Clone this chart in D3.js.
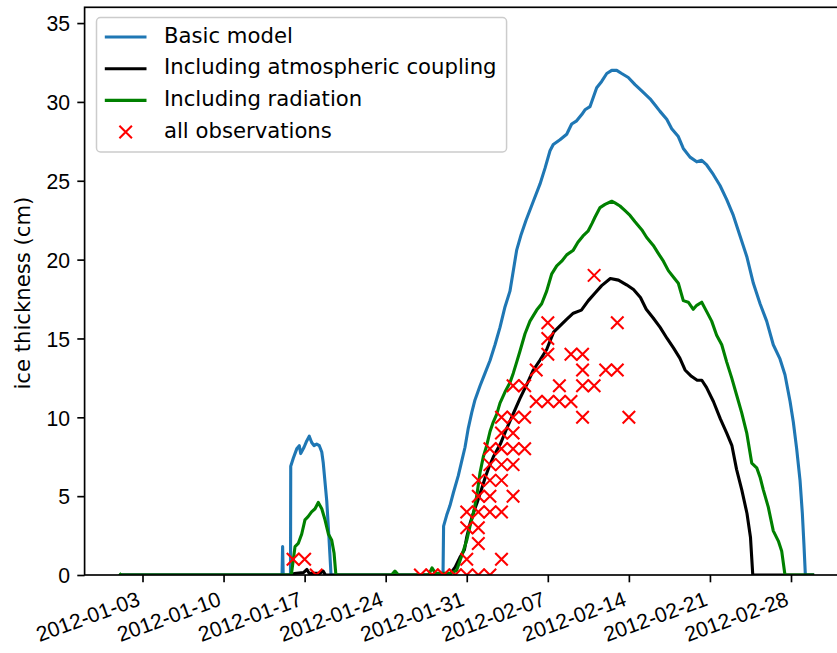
<!DOCTYPE html>
<html>
<head>
<meta charset="utf-8">
<script src="https://cdn.jsdelivr.net/npm/d3@7/dist/d3.min.js"></script>
<style>
  html, body { margin: 0; padding: 0; background: #fff; }
  svg { display: block; font-family: "DejaVu Sans", sans-serif; }
</style>
</head>
<body>
<svg id="chart" width="837" height="653"></svg>
<script>
// Ice thickness (cm) over winter 2012; times are days since 2012-01-01 00:00 UTC.
const basicModel = [
  [0,0],[14.05,0],[14.1,1.8],[14.15,0],[14.78,0],[14.8,6.9],[15.02,7.4],[15.32,8.0],[15.54,8.2],
  [15.66,7.7],[15.95,8.1],[16.18,8.5],[16.4,8.8],[16.61,8.4],[16.81,8.2],[17.04,8.3],[17.27,8.2],
  [17.48,7.8],[17.61,7.1],[17.91,4.7],[18.1,2.4],[18.28,0],[27.95,0],[28.0,3.1],[28.27,3.8],
  [28.55,4.4],[28.84,5.2],[29.27,6.3],[29.56,7.2],[29.85,8.1],[30.13,9.3],[30.43,10.3],[30.71,11.1],
  [31.15,12.0],[31.58,12.8],[32.01,13.6],[32.44,14.6],[32.87,15.7],[33.3,17.0],[33.73,18.0],
  [34.02,19.3],[34.31,20.6],[34.7,21.6],[35.12,22.5],[35.75,23.7],[36.33,24.8],[36.76,25.8],
  [37.19,26.9],[37.47,27.3],[38.05,27.6],[38.63,27.95],[39.06,28.6],[39.49,28.8],[39.93,29.2],
  [40.21,29.5],[40.64,29.7],[40.93,30.3],[41.22,30.9],[41.65,31.3],[42.09,31.8],[42.52,32.0],
  [42.95,32.0],[43.38,31.8],[43.95,31.55],[44.53,31.1],[45.11,30.7],[45.83,30.2],[46.26,29.8],
  [46.69,29.4],[47.27,28.9],[47.7,28.3],[48.27,27.8],[48.7,27.05],[49.28,26.5],[49.86,26.2],
  [50.29,26.3],[50.72,26.0],[51.29,25.4],[51.87,24.7],[52.45,23.8],[53.02,22.8],[53.6,21.5],
  [54.18,20.2],[54.75,18.5],[55.33,17.2],[55.9,16.1],[56.47,14.6],[57.05,13.7],[57.48,12.7],
  [57.92,11.0],[58.2,9.7],[58.49,8.0],[58.78,6.0],[58.98,3.9],[59.12,1.9],[59.24,0],[60,0]
];

const atmosphericCoupling = [
  [0,0],[15.0,0],[15.1,0.1],[15.9,0.15],[16.2,0.35],[16.4,0.1],[17.3,0.1],[17.6,0.25],[17.8,0],
  [28.5,0],[29.0,0.5],[29.4,1.1],[29.8,1.6],[30.0,2.4],[30.3,3.3],[30.6,4.0],[30.9,4.6],[31.3,5.5],
  [31.6,6.2],[31.9,6.8],[32.3,7.5],[32.9,8.3],[33.4,9.2],[34.0,10.2],[34.6,11.2],[35.2,12.1],
  [35.75,13.0],[36.3,13.6],[36.9,14.3],[37.5,15.4],[38.05,15.8],[38.6,16.2],[39.2,16.6],[39.9,16.8],
  [40.5,17.4],[41.1,17.9],[41.65,18.35],[42.4,18.8],[43.1,18.7],[43.8,18.4],[44.4,18.1],[45.0,17.6],
  [45.5,16.85],[46.1,16.3],[46.7,15.7],[47.3,15.0],[47.85,14.4],[48.4,13.75],[48.85,13.0],
  [49.4,12.6],[49.9,12.35],[50.3,12.35],[50.7,11.9],[51.3,11.0],[51.9,9.9],[52.45,9.0],[52.9,8.2],
  [53.3,6.7],[53.75,5.4],[54.2,3.9],[54.5,2.4],[54.7,0],[60,0]
];

const radiation = [
  [0,0.1],[0.15,0],[14.85,0],[15.17,1.8],[15.45,2.0],[15.75,2.6],[16.03,3.5],[16.3,3.7],[16.6,4.0],
  [16.9,4.2],[17.18,4.6],[17.48,4.2],[17.76,3.5],[18.05,2.6],[18.34,2.2],[18.54,1.4],[18.7,0],
  [23.5,0],[23.8,0.25],[24.1,0],[26.7,0],[27.0,0.45],[27.3,0.1],[28.6,0.1],[29.13,0.3],[29.56,1.2],
  [30.0,2.2],[30.28,3.1],[30.57,3.9],[30.86,5.0],[31.15,6.5],[31.43,7.5],[31.72,8.2],[32.01,9.1],
  [32.29,9.7],[32.59,10.2],[32.87,10.9],[33.3,11.6],[33.73,12.2],[34.02,12.8],[34.31,13.5],
  [34.6,14.2],[35.03,15.3],[35.46,16.1],[36.04,16.8],[36.47,17.2],[36.9,18.0],[37.34,19.1],
  [37.77,19.6],[38.2,19.9],[38.63,20.3],[39.2,20.6],[39.6,21.1],[40.04,21.5],[40.47,21.8],
  [40.82,22.3],[41.08,22.7],[41.51,23.3],[41.94,23.5],[42.52,23.7],[42.8,23.6],[43.23,23.4],
  [43.67,23.1],[44.1,22.8],[44.53,22.4],[45.11,21.9],[45.54,21.4],[46.11,20.9],[46.54,20.4],
  [46.98,19.9],[47.41,19.3],[47.84,18.9],[48.27,18.5],[48.7,17.4],[49.13,17.3],[49.56,16.85],
  [49.86,17.1],[50.29,17.3],[50.72,16.7],[51.15,16.1],[51.58,15.2],[52.02,14.6],[52.45,13.5],
  [52.88,12.5],[53.31,11.4],[53.74,10.3],[54.18,9.0],[54.61,7.1],[55.04,6.8],[55.33,6.2],
  [55.61,5.4],[56.04,4.3],[56.47,2.8],[56.91,2.15],[57.2,1.5],[57.48,0],[60,0]
];

// Field observations: [day, thickness cm]
const observations = [
  [15,1],[16,1],[17,0],
  [26,0],[27,0],[28,0],[29,0],[30,0],[31,0],[32,0],
  [30,1],[30,3],[30,4],
  [31,2],[31,3],[31,4],[31,5],[31,6],
  [32,4],[32,5],[32,6],[32,7],[32,8],
  [33,1],[33,4],[33,6],[33,7],[33,8],[33,9],[33,10],
  [34,5],[34,7],[34,8],[34,9],[34,10],[34,12],
  [35,8],[35,10],[35,12],
  [36,11],[36,13],
  [37,11],[37,14],[37,15],[37,16],
  [38,11],[38,12],
  [39,11],[39,14],
  [40,10],[40,12],[40,13],[40,14],
  [41,12],[41,19],
  [42,13],
  [43,13],[43,16],
  [44,10]
];

const xTickLabels = ["2012-01-03","2012-01-10","2012-01-17","2012-01-24","2012-01-31",
                     "2012-02-07","2012-02-14","2012-02-21","2012-02-28"];
const yTickValues = [0,5,10,15,20,25,30,35];

const seriesNames = ["Basic model","Including atmospheric coupling","Including radiation","all observations"];
const seriesColors = ["#1f77b4","#000000","#008000","#ff0000"];

// ---- drawing ----
const FS = 21.2;
const LW = 3.1;
const origin = Date.UTC(2012,0,1);
const toDate = d => new Date(origin + d * 864e5);

const plotL = 84.6, plotR = 848.9, plotT = 7.3, plotB = 575;
const svg = d3.select("#chart");

const x = d3.scaleUtc()
  .domain([new Date(Date.UTC(2011,11,29)), new Date(Date.UTC(2012,2,4))])
  .range([plotL, plotR]);
const y = d3.scaleLinear().domain([0, 36]).range([plotB, plotT]);

svg.append("defs").append("clipPath").attr("id","plotclip")
  .append("rect").attr("x", plotL).attr("y", plotT)
  .attr("width", plotR - plotL).attr("height", plotB - plotT);

const plot = svg.append("g").attr("clip-path","url(#plotclip)");

const line = d3.line().x(d => x(toDate(d[0]))).y(d => y(d[1]));
[basicModel, atmosphericCoupling, radiation].forEach((s, i) => {
  plot.append("path").datum(s)
    .attr("d", line)
    .attr("fill","none")
    .attr("stroke", seriesColors[i])
    .attr("stroke-width", LW)
    .attr("stroke-linejoin","round");
});

const H = 6.25;
const xMark = `M${-H},${-H}L${H},${H}M${-H},${H}L${H},${-H}`;
plot.selectAll("path.obs").data(observations).join("path")
  .attr("class","obs")
  .attr("transform", d => `translate(${x(toDate(d[0]))},${y(d[1])})`)
  .attr("d", xMark)
  .attr("fill","none")
  .attr("stroke", seriesColors[3])
  .attr("stroke-width", 2.08);

// axes
const parse = d3.utcParse("%Y-%m-%d");
const xAxis = d3.axisBottom(x)
  .tickValues(xTickLabels.map(parse))
  .tickFormat(d3.utcFormat("%Y-%m-%d"))
  .tickSize(7.3).tickSizeOuter(0);
const gx = svg.append("g").attr("transform",`translate(0,${plotB})`).call(xAxis);
gx.select(".domain").remove();
gx.selectAll(".tick line").attr("stroke","#000").attr("stroke-width",1.67);
gx.selectAll(".tick text")
  .attr("font-size", FS).attr("fill","#000")
  .attr("text-anchor","end")
  .attr("dy", null)
  .attr("y", null)
  .attr("transform", `translate(-1.7,30) rotate(-20)`);

const yAxis = d3.axisLeft(y).tickValues(yTickValues).tickSize(7.3).tickSizeOuter(0).tickPadding(7.3);
const gy = svg.append("g").attr("transform",`translate(${plotL},0)`).call(yAxis);
gy.select(".domain").remove();
gy.selectAll(".tick line").attr("stroke","#000").attr("stroke-width",1.67);
gy.selectAll(".tick text").attr("font-size", FS).attr("fill","#000")
  .attr("dy", null).attr("y", 7.7);

// frame
svg.append("rect").attr("x", plotL).attr("y", plotT)
  .attr("width", plotR - plotL).attr("height", plotB - plotT)
  .attr("fill","none").attr("stroke","#000").attr("stroke-width",1.67);

// y label
svg.append("text")
  .attr("transform", `translate(30,${(plotT + plotB) / 2 + 2}) rotate(-90)`)
  .attr("text-anchor","middle")
  .attr("font-size", FS).attr("fill","#000")
  .text("ice thickness (cm)");

// legend
const lg = svg.append("g");
const lgX = 96.5, lgY = 17.5, rowH = 31.7, row0 = 37;
const hx0 = lgX + 8.3, hx1 = hx0 + 41.7, tx = hx1 + 17.5;
const box = lg.append("rect").attr("x", lgX).attr("y", lgY).attr("rx", 4).attr("ry", 4)
  .attr("fill","#fff").attr("fill-opacity",0.8)
  .attr("stroke","#cccccc").attr("stroke-width",1.5);
let maxW = 0;
seriesNames.forEach((name, i) => {
  const cy = row0 + i * rowH;
  if (i < 3) {
    lg.append("line").attr("x1", hx0).attr("x2", hx1).attr("y1", cy).attr("y2", cy)
      .attr("stroke", seriesColors[i]).attr("stroke-width", LW);
  } else {
    lg.append("path").attr("d", xMark)
      .attr("transform", `translate(${(hx0 + hx1) / 2},${cy})`)
      .attr("fill","none").attr("stroke", seriesColors[i]).attr("stroke-width", 2.08);
  }
  const t = lg.append("text").attr("x", tx).attr("y", cy + 5.6)
    .attr("font-size", FS).attr("fill","#000").text(name);
  maxW = Math.max(maxW, t.node().getComputedTextLength());
});
box.attr("width", tx + maxW + 10 - lgX).attr("height", 152 - lgY);
</script>
</body>
</html>
